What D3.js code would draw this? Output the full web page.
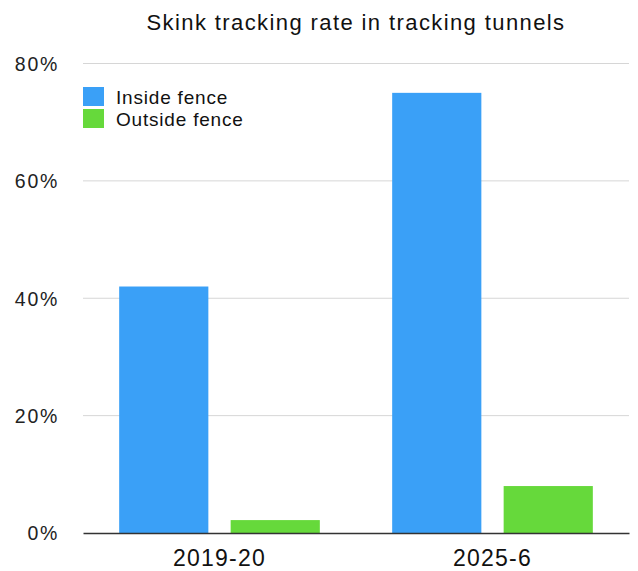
<!DOCTYPE html>
<html>
<head>
<meta charset="utf-8">
<script src="https://cdn.jsdelivr.net/npm/d3@7"></script>
<style>
  html, body { margin: 0; padding: 0; background: #fff; }
  svg { display: block; font-family: "Liberation Sans", Arial, Helvetica, sans-serif; }
</style>
</head>
<body>
<svg id="chart" width="638" height="571"></svg>
<script>
// Skink tracking rate (percent of tunnels tracked)
const periods = ["2019-20", "2025-6"];
const seriesNames = ["Inside fence", "Outside fence"];
const insideFence = [42, 75];
const outsideFence = [2.2, 8];
const yTicks = [0, 20, 40, 60, 80];
const colors = ["#3aa0f7", "#66d93b"];

const svg = d3.select("#chart");
const margin = { top: 63.5, right: 9, bottom: 38, left: 83 };
const W = 638, H = 571;
const plotW = W - margin.left - margin.right;
const plotH = H - margin.top - margin.bottom;

const rows = periods.map((p, i) => ({ period: p, values: [insideFence[i], outsideFence[i]] }));

const x0 = d3.scaleBand().domain(periods).range([0, plotW]).paddingInner(0.265).paddingOuter(0.1325);
const x1 = d3.scaleBand().domain(seriesNames).range([0, x0.bandwidth()]).paddingInner(0.2);
const y = d3.scaleLinear().domain([0, 80]).range([plotH, 0]);

const g = svg.append("g").attr("transform", `translate(${margin.left},${margin.top})`);

// gridlines
g.append("g")
  .selectAll("line")
  .data(yTicks.filter(t => t > 0))
  .join("line")
  .attr("x1", 0).attr("x2", plotW)
  .attr("y1", d => y(d)).attr("y2", d => y(d))
  .attr("stroke", "#d6d6d6").attr("stroke-width", 1);

// y axis labels
const yAxis = d3.axisLeft(y).tickValues(yTicks).tickFormat(d => d + "%").tickSize(0).tickPadding(24);
const ya = g.append("g").call(yAxis);
ya.select(".domain").remove();
ya.selectAll("text")
  .attr("font-size", 19.5).attr("fill", "#222")
  .attr("font-family", "'Liberation Sans', Arial, sans-serif")
  .attr("dy", "0.35em")
  .attr("letter-spacing", 1.7);

// bars
const groups = g.append("g").selectAll("g")
  .data(rows).join("g")
  .attr("transform", d => `translate(${x0(d.period)},0)`);

groups.selectAll("rect")
  .data(d => d.values.map((v, i) => ({ key: seriesNames[i], value: v, i })))
  .join("rect")
  .attr("x", d => x1(d.key))
  .attr("width", x1.bandwidth())
  .attr("y", d => y(d.value))
  .attr("height", d => plotH - y(d.value))
  .attr("fill", d => colors[d.i]);

// baseline axis
const xAxis = d3.axisBottom(x0).tickSize(0).tickPadding(17);
const xa = g.append("g").attr("transform", `translate(0,${plotH})`).call(xAxis);
xa.select(".domain").attr("stroke", "#333").attr("stroke-width", 1.5);
xa.selectAll("text")
  .attr("font-size", 23).attr("fill", "#111")
  .attr("font-family", "'Liberation Sans', Arial, sans-serif")
  .attr("letter-spacing", 1.2);

// legend
const legend = svg.append("g").attr("transform", `translate(${margin.left},87)`);
seriesNames.forEach((name, i) => {
  const row = legend.append("g").attr("transform", `translate(0,${i * 22})`);
  row.append("rect").attr("width", 21).attr("height", 19).attr("fill", colors[i]);
  row.append("text").attr("x", 33).attr("y", 17)
    .attr("font-size", 19).attr("fill", "#111")
    .attr("letter-spacing", 0.8)
    .text(name);
});

// title
svg.append("text")
  .attr("x", margin.left + plotW / 2).attr("y", 30)
  .attr("text-anchor", "middle")
  .attr("font-size", 22).attr("fill", "#111")
  .attr("letter-spacing", 1.4)
  .text("Skink tracking rate in tracking tunnels");
</script>
</body>
</html>
